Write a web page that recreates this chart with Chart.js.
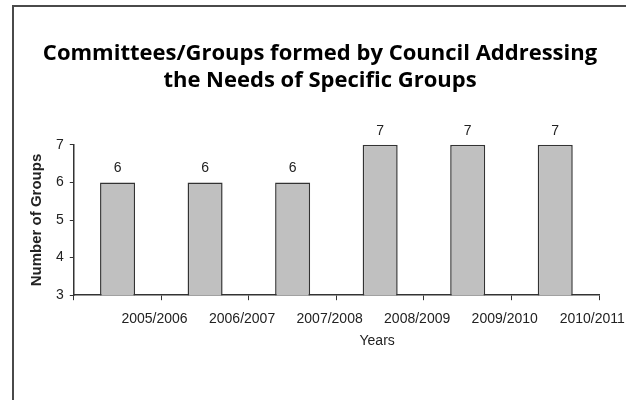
<!DOCTYPE html>
<html>
<head>
<meta charset="utf-8">
<script src="https://cdn.jsdelivr.net/npm/chart.js@4"></script>
<style>
  body{margin:0;background:#fff;overflow:hidden;}
  #frame{position:absolute;left:12px;top:5px;width:700px;height:500px;border:2px solid #4a4a4a;}
  #wrap{position:absolute;left:0;top:0;width:626px;height:400px;}
</style>
</head>
<body>
<div id="frame"></div>
<div id="wrap"><canvas id="groupsChart" width="626" height="400"></canvas></div>
<script>
const years = ["2005/2006","2006/2007","2007/2008","2008/2009","2009/2010","2010/2011"]
const groupCounts = [6,6,6,7,7,7]
const yTicks = [3,4,5,6,7]
const xAxisName = 'Years'

const arial = '"Liberation Sans", Arial, sans-serif'

// number above each bar plus the x axis name under the labels
const barText = {
    id:'barText',
    afterDatasetsDraw(chart){
        const ctx = chart.ctx
        const meta = chart.getDatasetMeta(0)
        ctx.save()
        ctx.font = '14px ' + arial
        ctx.fillStyle = '#222'
        ctx.textAlign = 'center'
        ctx.textBaseline = 'bottom'
        meta.data.forEach((bar,i)=>{
            ctx.fillText(chart.data.datasets[0].data[i], bar.x, bar.y - 7)
        })
        const x = chart.scales.x
        ctx.textBaseline = 'middle'
        ctx.fillText(xAxisName, x.getPixelForValue(3) - 3, x.bottom + 2)
        ctx.restore()
    }
}

const ctx = document.getElementById('groupsChart').getContext('2d');
new Chart(ctx, {
    type: 'bar',
    data: {
        labels: years,
        datasets: [{
            data: groupCounts,
            backgroundColor: '#c0c0c0',
            borderColor: '#333',
            borderWidth: 1.5,
            categoryPercentage: 1,
            barPercentage: 0.4
        }]
    },
    options: {
        responsive: false,
        animation: false,
        layout: { padding: { left: 27, right: 13, top: 11, bottom: 61 } },
        plugins: {
            legend: { display: false },
            tooltip: { enabled: false },
            title: {
                display: true,
                text: ['Committees/Groups formed by Council Addressing','the Needs of Specific Groups'],
                color: '#000',
                font: { family: '"Open Sans"', size: 22, weight: 'bold', lineHeight: 1.2 },
                padding: { top: 30, bottom: 51 }
            }
        },
        scales: {
            x: {
                offset: true,
                grid: { offset: true, drawOnChartArea: false, drawTicks: true, tickLength: 5, color: '#333', lineWidth: 1 },
                border: { color: '#333', width: 1.5 },
                ticks: {
                    color: '#222',
                    font: { family: arial, size: 14 },
                    labelOffset: 37,
                    maxRotation: 0,
                    autoSkip: false,
                    padding: 11
                }
            },
            y: {
                min: yTicks[0],
                max: yTicks[yTicks.length-1],
                afterBuildTicks: axis => { axis.ticks = yTicks.map(v => ({ value: v })) },
                grid: { drawOnChartArea: false, drawTicks: true, tickLength: 4, color: '#333' },
                border: { color: '#333', width: 1.5 },
                ticks: {
                    color: '#222',
                    font: { family: arial, size: 14 },
                    padding: 6
                },
                title: {
                    display: true, text: 'Number of Groups', color: '#222',
                    font: { family: arial, size: 15, weight: 'bold' },
                    padding: { top: 1, bottom: 4 }
                }
            },
            // empty strip on the right so the last shifted label has room
            yRight: {
                position: 'right',
                display: true,
                grid: { display: false },
                border: { display: false },
                ticks: { display: false },
                afterFit: axis => { axis.width = 14 }
            }
        }
    },
    plugins: [barText]
});
</script>
</body>
</html>
